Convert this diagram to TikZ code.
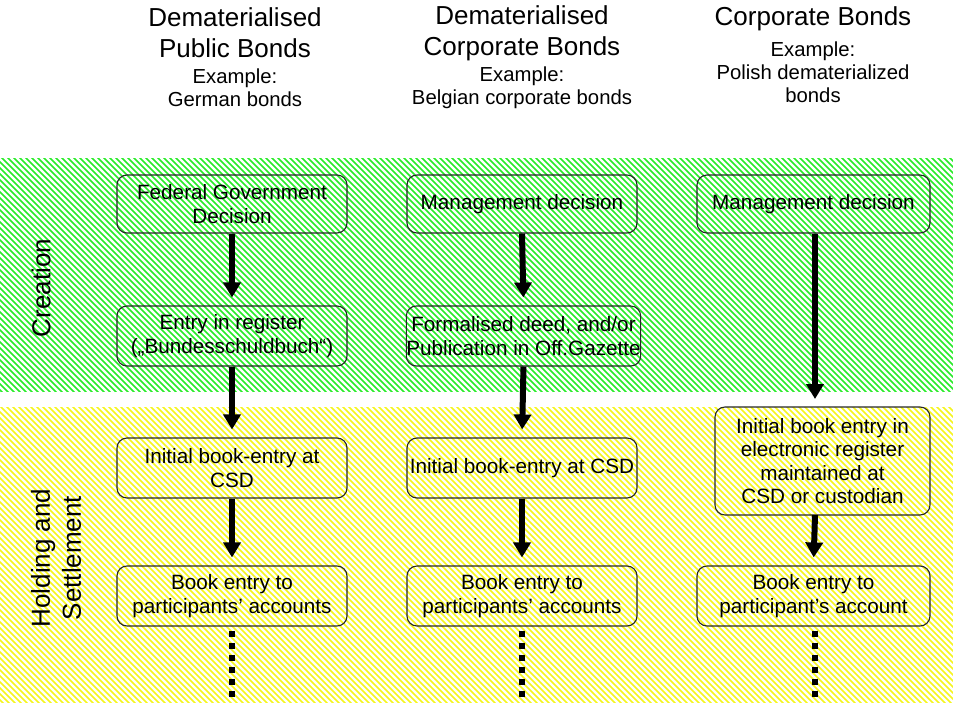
\documentclass[tikz,border=0pt]{standalone}
\usepackage{fontspec}
\setmainfont{Liberation Sans}
\usetikzlibrary{arrows.meta}
\definecolor{hatchgreen}{RGB}{40,235,40}
\definecolor{hatchyellow}{RGB}{245,245,30}
\newcommand{\bigfnt}{\fontsize{26}{31}\selectfont}
\newcommand{\smallfnt}{\fontsize{20.3}{23}\selectfont}
\newcommand{\boxfnt}{\fontsize{20.7}{23.5}\selectfont}
\tikzset{
  stepbox/.style={draw=black!85, line width=1.1pt, rounded corners=10pt, align=center,
    font=\boxfnt, inner sep=0pt, minimum width=230pt, minimum height=60pt},
  arr/.style={line width=6pt, -{Triangle[width=17pt,length=15pt]}, shorten >=8pt},
  dotsline/.style={line width=6pt, dash pattern=on 6pt off 6pt, line cap=butt},
  hdrbig/.style={align=center, font=\bigfnt, inner sep=0pt},
  hdrsmall/.style={align=center, font=\smallfnt, inner sep=0pt},
  sidelabel/.style={align=center, font=\bigfnt, inner sep=0pt, rotate=90},
  hgreen/.style={draw=hatchgreen, line width=1.6pt},
  hyellow/.style={draw=hatchyellow, line width=1.6pt}
}
\begin{document}
\begin{tikzpicture}[x=1pt,y=-1pt]
\useasboundingbox (0,0) rectangle (953,702);
% bands
\begin{scope}
\clip (0,158) rectangle (953,391);
\foreach \i in {-240,-234,...,960} \draw[hgreen] (\i,150) -- ++(245,245);
\end{scope}
\begin{scope}
\clip (0,407) rectangle (953,702);
\foreach \i in {-300,-294,...,960} \draw[hyellow] (\i,400) -- ++(310,310);
\end{scope}
% headers
\node[hdrbig] (h1) at (235,33) {Dematerialised\\Public Bonds};
\node[hdrsmall] (e1) at (235,88) {Example:\\German bonds};
\node[hdrbig] (h2) at (522,33) {Dematerialised\\Corporate Bonds};
\node[hdrsmall] (e2) at (522,88) {Example:\\Belgian corporate bonds};
\node[hdrbig] (h3) at (813,19) {Corporate Bonds};
\node[hdrsmall] (e3) at (813,72) {Example:\\Polish dematerialized\\bonds};
% side labels
\node[sidelabel] (s1) at (41,288) {Creation};
\node[sidelabel] (s2) at (56,558) {Holding and\\Settlement};
% column 1
\node[stepbox, minimum height=58pt] (a1) at (232,204) {Federal Government\\Decision};
\node[stepbox] (a2) at (232,336) {Entry in register\\(„Bundesschuldbuch“)};
\node[stepbox] (a3) at (232,468) {Initial book-entry at\\CSD};
\node[stepbox] (a4) at (232,596) {Book entry to\\participants’ accounts};
% column 2
\node[stepbox, minimum height=58pt] (b1) at (522,204) {Management decision};
\node[stepbox, minimum width=233pt] (b2) at (523.5,336) {Formalised deed, and/or\\Publication in Off.Gazette};
\node[stepbox] (b3) at (522,468) {Initial book-entry at CSD};
\node[stepbox] (b4) at (522,596) {Book entry to\\participants’ accounts};
% column 3
\node[stepbox, minimum height=58pt, minimum width=233pt] (c1) at (813.5,204) {Management decision};
\node[stepbox, minimum height=108pt, minimum width=215pt] (c3) at (822.5,461) {Initial book entry in\\electronic register\\maintained at\\CSD or custodian};
\node[stepbox, minimum width=233pt] (c4) at (813.5,596) {Book entry to\\participant’s account};
% arrows
\draw[arr] (a1.south) -- (a2.north);
\draw[arr] (a2.south) -- (a3.north);
\draw[arr] (a3.south) -- (a4.north);
\draw[arr] (b1.south) -- (b2.north);
\draw[arr] (b2.south) -- (b3.north);
\draw[arr] (b3.south) -- (b4.north);
\coordinate (c3top) at (815,407);
\coordinate (c3bot) at (815,515);
\draw[arr] (c1.south) ++(1.5,0) -- (c3top);
\draw[arr] (c3bot) -- (c4.north);
% dotted continuations
\coordinate (endline) at (0,702);
\draw[dotsline] ([yshift=-4pt]a4.south) -- (a4.south |- endline);
\draw[dotsline] ([yshift=-4pt]b4.south) -- (b4.south |- endline);
\draw[dotsline] ([yshift=-4pt,xshift=1.5pt]c4.south) -- ([xshift=1.5pt]c4.south |- endline);
\end{tikzpicture}
\end{document}
